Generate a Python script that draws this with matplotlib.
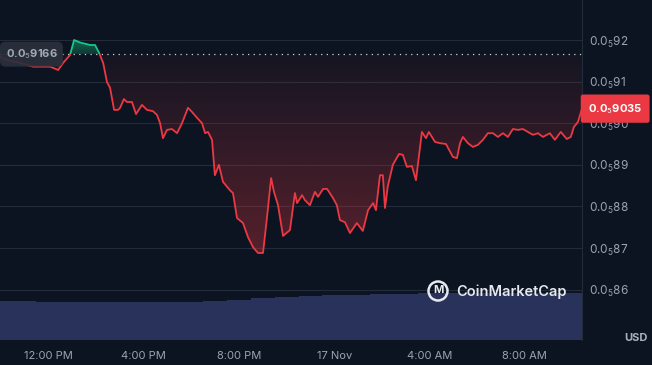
import numpy as np
import matplotlib
matplotlib.use("Agg")
from matplotlib import pyplot as plt
from matplotlib.path import Path
from matplotlib.patches import PathPatch, Rectangle, Circle
from matplotlib.ticker import FuncFormatter, FixedLocator

plt.rcParams['font.family'] = ['Inter', 'DejaVu Sans']
plt.rcParams['mathtext.fontset'] = 'custom'
plt.rcParams['mathtext.rm'] = 'Inter'
plt.rcParams['mathtext.it'] = 'Inter'
plt.rcParams['mathtext.bf'] = 'Inter:bold'

# hours after 16 Nov 12:00 PM
hours = [-2.03, -1.75, -1.19, -0.64, 0.07, 0.41, 0.62, 0.91, 1.08, 1.33,
         1.62, 1.75, 1.96, 2.13, 2.30, 2.46, 2.59, 2.76, 2.92, 3.01,
         3.17, 3.30, 3.51, 3.68, 3.93, 4.14, 4.39, 4.56, 4.69, 4.81,
         4.98, 5.19, 5.40, 5.61, 5.86, 6.03, 6.24, 6.45, 6.58, 6.70,
         6.87, 6.99, 7.16, 7.33, 7.62, 7.75, 7.92, 8.17, 8.38, 8.59,
         8.80, 9.01, 9.18, 9.35, 9.47, 9.64, 9.85, 10.14, 10.35, 10.44,
         10.65, 10.77, 10.98, 11.19, 11.32, 11.53, 11.70, 11.95, 12.11, 12.24,
         12.45, 12.66, 12.95, 13.20, 13.42, 13.63, 13.75, 13.92, 14.04, 14.13,
         14.25, 14.46, 14.72, 14.88, 15.05, 15.26, 15.43, 15.68, 15.85, 15.97,
         16.23, 16.44, 16.69, 16.98, 17.15, 17.28, 17.40, 17.61, 17.82, 18.03,
         18.24, 18.45, 18.66, 18.87, 19.08, 19.29, 19.50, 19.71, 19.92, 20.13,
         20.34, 20.55, 20.76, 21.05, 21.26, 21.51, 21.76, 21.93, 22.06, 22.23,
         22.40]

# price in units of 1e-5 USD (shown as 0.0_5xxxx)
price = [0.9160, 0.9152, 0.9145, 0.9136, 0.9136, 0.9128, 0.9145, 0.9164, 0.9200, 0.9194,
         0.9190, 0.9188, 0.9188, 0.9169, 0.9145, 0.9099, 0.9085, 0.9032, 0.9032, 0.9037,
         0.9058, 0.9051, 0.9051, 0.9022, 0.9044, 0.9032, 0.9029, 0.9020, 0.9000, 0.8964,
         0.8984, 0.8986, 0.8976, 0.9000, 0.9037, 0.9027, 0.9013, 0.9000, 0.8976, 0.8979,
         0.8960, 0.8875, 0.8900, 0.8859, 0.8839, 0.8832, 0.8772, 0.8760, 0.8726, 0.8702,
         0.8688, 0.8688, 0.8775, 0.8868, 0.8835, 0.8803, 0.8729, 0.8743, 0.8832, 0.8808,
         0.8827, 0.8815, 0.8803, 0.8835, 0.8823, 0.8842, 0.8842, 0.8820, 0.8803, 0.8767,
         0.8762, 0.8736, 0.8760, 0.8741, 0.8791, 0.8808, 0.8791, 0.8875, 0.8875, 0.8796,
         0.8849, 0.8900, 0.8926, 0.8924, 0.8895, 0.8897, 0.8863, 0.8979, 0.8964, 0.8979,
         0.8955, 0.8952, 0.8950, 0.8919, 0.8916, 0.8952, 0.8967, 0.8952, 0.8943, 0.8948,
         0.8960, 0.8976, 0.8976, 0.8967, 0.8976, 0.8967, 0.8986, 0.8984, 0.8986, 0.8979,
         0.8972, 0.8976, 0.8967, 0.8976, 0.8960, 0.8979, 0.8962, 0.8967, 0.8991, 0.9003,
         0.9035]

open_price = 0.9166
last_price = 0.9035

# hourly volume (relative units)
vol_hours = list(range(-2, 23))
volume = [3.95, 3.95, 3.85, 3.80, 3.80, 3.80, 3.80, 3.85, 3.85, 3.90,
          4.05, 4.20, 4.35, 4.45, 4.50, 4.55, 4.60, 4.65, 4.70, 4.70,
          4.75, 4.75, 4.75, 4.75, 4.75]

tick_hours = [0, 4, 8, 12, 16, 20]
tick_labels = ["12:00 PM", "4:00 PM", "8:00 PM", "17 Nov", "4:00 AM", "8:00 AM"]
price_ticks = [0.86, 0.87, 0.88, 0.89, 0.90, 0.91, 0.92]

BG = "#0d1421"
RED = "#ea3943"
GREEN = "#16c784"
GRID = "#222b3a"
TXT = "#9aa3b4"

W, H = 652, 365
fig = plt.figure(figsize=(W / 100, H / 100), dpi=100, facecolor=BG)
rect = [0, 25 / H, 582 / W, 340 / H]
xlim = (hours[0], hours[-1])
ylim = (0.84788, 0.92962)

# volume underneath
axv = fig.add_axes(rect, zorder=0)
axv.set_facecolor(BG)
axv.bar(vol_hours, volume, width=1.0, color="#29325a", edgecolor="none")
axv.set_xlim(xlim)
axv.set_ylim(0, 34)
axv.axis("off")

ax = fig.add_axes(rect, zorder=1)
ax.patch.set_alpha(0)
t = np.array(hours)
p = np.array(price)

for v in price_ticks:
    ax.axhline(v, color=GRID, lw=0.8, zorder=0)

# gradient fills between the line and the opening price
def grad_fill(mask, color, a_top, a_bot, y_bot, y_top):
    coll = ax.fill_between(t, p, open_price, where=mask, interpolate=True,
                           facecolor="none", edgecolor="none")
    path = Path.make_compound_path(*coll.get_paths())
    clip = PathPatch(path, transform=ax.transData, facecolor="none", edgecolor="none")
    ax.add_patch(clip)
    rgba = np.zeros((256, 1, 4))
    rgba[..., :3] = matplotlib.colors.to_rgb(color)
    rgba[:, 0, 3] = np.linspace(a_top, a_bot, 256)
    im = ax.imshow(rgba, extent=[xlim[0], xlim[1], y_bot, y_top], origin="upper",
                   aspect="auto", zorder=1, interpolation="bilinear")
    im.set_clip_path(clip)

grad_fill(p <= open_price, RED, 0.04, 0.33, p.min(), open_price)
grad_fill(p >= open_price, GREEN, 0.5, 0.2, open_price, p.max())

# line: red below open, green above
below = Rectangle((xlim[0], ylim[0]), xlim[1] - xlim[0], open_price - ylim[0],
                  transform=ax.transData, facecolor="none", edgecolor="none")
above = Rectangle((xlim[0], open_price), xlim[1] - xlim[0], ylim[1] - open_price,
                  transform=ax.transData, facecolor="none", edgecolor="none")
ax.add_patch(below)
ax.add_patch(above)
l1, = ax.plot(t, p, color=RED, lw=1.3, zorder=3, solid_joinstyle="round")
l1.set_clip_path(below)
l2, = ax.plot(t, p, color=GREEN, lw=1.3, zorder=3, solid_joinstyle="round")
l2.set_clip_path(above)

ax.axhline(open_price, color="#c8cfdb", lw=0.9, ls=(0, (1, 3.5)), zorder=2)

ax.set_xlim(xlim)
ax.set_ylim(ylim)
for s in ["left", "top", "bottom"]:
    ax.spines[s].set_visible(False)
ax.spines["right"].set_color(GRID)
ax.spines["right"].set_linewidth(0.8)

ax.xaxis.set_major_locator(FixedLocator(tick_hours))
ax.set_xticklabels(tick_labels)
ax.yaxis.tick_right()
ax.yaxis.set_major_locator(FixedLocator(price_ticks))
ax.yaxis.set_major_formatter(FuncFormatter(lambda v, pos: "0.0$_5$%d" % round(v * 100)))
ax.tick_params(axis="x", length=0, pad=8, labelsize=8, colors=TXT)
ax.tick_params(axis="y", length=0, pad=5, labelsize=8.5, colors=TXT)

# opening price tag on the left
ax.text(0.054, open_price, "0.0$_5$9166", transform=ax.get_yaxis_transform(),
        ha="center", va="center", fontsize=8, color="#a3aab6", fontweight="bold", zorder=5,
        bbox=dict(boxstyle="round,pad=0.5,rounding_size=0.5", fc="#2a303c", ec="none", alpha=0.9))

# current price tag on the right
ax.text(1.057, last_price, "0.0$_5$9035", transform=ax.get_yaxis_transform(),
        ha="center", va="center", fontsize=8, color="white", fontweight="bold", zorder=6,
        clip_on=False,
        bbox=dict(boxstyle="round,pad=0.65,rounding_size=0.2", fc=RED, ec="none"))

fig.text(636 / W, 1 - 338 / H, "USD", ha="center", va="center", fontsize=8,
         color="#aab2c0", fontweight="bold")

# watermark
fig.add_artist(Circle((438, H - 291), 9.5, transform=None, fill=False,
                      ec="#e6e9ef", lw=1.8, zorder=4))
fig.text(438 / W, 1 - 290 / H, "M", ha="center", va="center", fontsize=8,
         color="#e6e9ef", fontweight="bold", zorder=4)
fig.text(456 / W, 1 - 292 / H, "CoinMarketCap", ha="left", va="center", fontsize=10.5,
         color="#e6e9ef", fontweight="semibold", zorder=4)

fig.savefig("out.png", dpi=100, facecolor=BG)
